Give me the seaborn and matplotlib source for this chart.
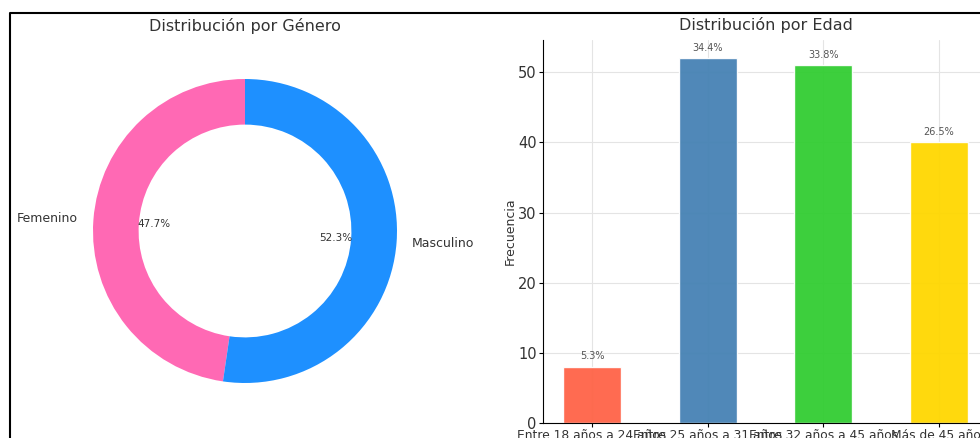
import matplotlib
matplotlib.use("Agg")
import matplotlib.pyplot as plt
from matplotlib.lines import Line2D
import seaborn as sns
import pandas as pd

# Gender distribution
gender_labels = ["Femenino", "Masculino"]
gender_counts = [72, 79]
gender_colors = ["#FF69B4", "#1E90FF"]

# Age distribution
age_groups = [
    "Entre 18 años a 24 años",
    "Entre 25 años a 31 años",
    "Entre 32 años a 45 años",
    "Más de 45 años",
]
age_counts = [8, 52, 51, 40]
age_colors = ["#FF6347", "#4682B4", "#32CD32", "#FFD700"]

sns.set_style("whitegrid", {
    "axes.edgecolor": "black",
    "grid.color": "#e4e4e4",
    "xtick.bottom": True,
    "ytick.left": True,
    "axes.spines.top": False,
    "axes.spines.right": False,
})
plt.rcParams["font.family"] = ["DejaVu Sans"]
text_color = "#333333"

W, H = 980, 438
fig = plt.figure(figsize=(W / 100, H / 100), dpi=100)


def px_axes(left, top, right, bottom):
    return fig.add_axes([left / W, 1 - bottom / H, (right - left) / W, (bottom - top) / H])


# Donut chart
ax1 = px_axes(55, 41, 435, 421)
wedges, texts, autotexts = ax1.pie(
    gender_counts,
    labels=gender_labels,
    colors=gender_colors,
    autopct="%1.1f%%",
    startangle=90,
    wedgeprops=dict(width=0.3, edgecolor="none"),
    textprops=dict(color=text_color),
)
for t in texts:
    t.set_fontsize(9)
for t in autotexts:
    t.set_fontsize(7.5)
ax1.set_xlim(-1.25, 1.25)
ax1.set_ylim(-1.25, 1.25)
ax1.set_aspect("equal")
ax1.set_title("Distribución por Género", fontsize=11.5, color=text_color, pad=7)

# Bar chart
ax2 = px_axes(543, 40, 988, 423)
df = pd.DataFrame({"Edad": age_groups, "Frecuencia": age_counts})
sns.barplot(
    data=df, x="Edad", y="Frecuencia", hue="Edad", palette=age_colors,
    width=0.5, saturation=1, alpha=0.95, legend=False, ax=ax2,
)
ax2.set_xlim(-0.425, 3.425)
ax2.set_ylim(0, 54.6)
ax2.xaxis.grid(True)
ax2.yaxis.grid(True)
ax2.set_axisbelow(True)
ax2.set_xlabel("")
ax2.set_ylabel("Frecuencia", fontsize=9, color=text_color, labelpad=1)
ax2.tick_params(axis="both", colors=text_color, length=3, color="black", pad=1.5)
ax2.tick_params(axis="y", labelsize=10.5)
ax2.tick_params(axis="x", labelsize=8.8, pad=1)
ax2.set_title("Distribución por Edad", fontsize=11.5, color=text_color, pad=7)

total = sum(age_counts)
for i, c in enumerate(age_counts):
    ax2.text(i, c + 0.8, f"{c / total * 100:.1f}%", ha="center", va="bottom",
             fontsize=7, color="#555555")

# Outer frame
fig.add_artist(Line2D([10 / W, 10 / W, 1], [0, 1 - 13 / H, 1 - 13 / H],
                      transform=fig.transFigure, color="black", linewidth=1.5))

fig.savefig("out.png", dpi=100)
